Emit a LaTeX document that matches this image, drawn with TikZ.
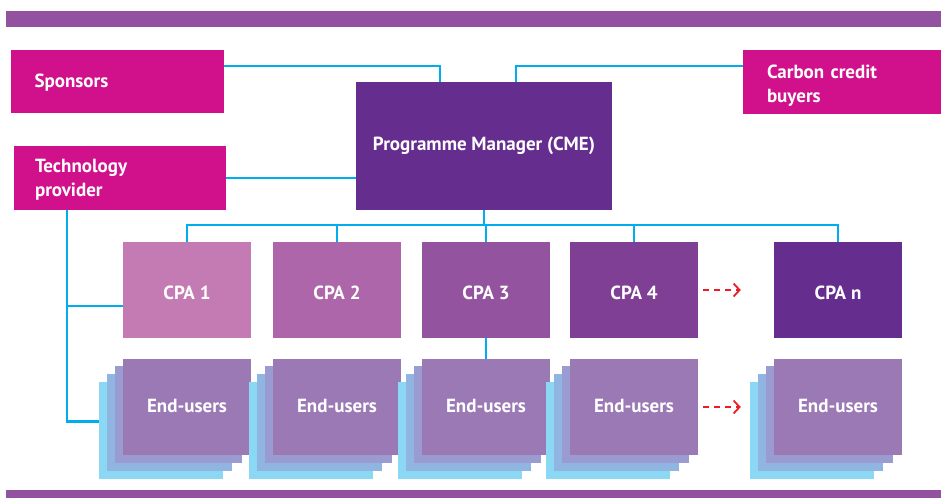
\documentclass[tikz,border=0pt]{standalone}
\usepackage{fontspec}
\setmainfont{PT Sans}
\usetikzlibrary{arrows.meta}
\definecolor{barpurple}{HTML}{93529F}
\definecolor{pinkc}{HTML}{D0118B}
\definecolor{pmc}{HTML}{652D8E}
\definecolor{cpaA}{HTML}{C47BB3}
\definecolor{cpaB}{HTML}{AC66A9}
\definecolor{cpaC}{HTML}{93539F}
\definecolor{cpaD}{HTML}{7E3F95}
\definecolor{cpaN}{HTML}{652D8E}
\definecolor{euF}{HTML}{9A79B5}
\definecolor{euL2}{HTML}{9A9BD0}
\definecolor{euL3}{HTML}{8FB5E0}
\definecolor{euL4}{HTML}{8BD8F5}
\definecolor{connc}{HTML}{00AEEF}
\definecolor{redc}{HTML}{ED1C24}
\tikzset{
  box/.style={rectangle, inner sep=0pt, text=white, font=\bfseries\fontsize{19}{24}\selectfont},
  pinkbox/.style={box, fill=pinkc, align=left},
  cpabox/.style={box, minimum width=128pt, minimum height=96pt, text height=18pt, text depth=0pt},
  eubox/.style={box, fill=euF, minimum width=128pt, minimum height=96pt, text height=13pt, text depth=1.6pt},
  layer/.style={rectangle, inner sep=0pt, minimum height=97pt},
  conn/.style={draw=connc, line width=2.8pt},
  redarr/.style={draw=redc, line width=1.8pt, dash pattern=on 6pt off 5pt, -{Straight Barb[length=6pt,width=13pt,line width=1.8pt]}},
  bar/.style={rectangle, fill=barpurple, inner sep=0pt}
}
\begin{document}
\begin{tikzpicture}[x=1pt,y=-1pt]
\useasboundingbox (0,0) rectangle (941,498);
% bars
\node[bar, minimum width=935pt, minimum height=16pt] (topbar) at (473.5,19) {};
\node[bar, minimum width=935pt, minimum height=8pt] (botbar) at (473.5,494) {};
% top nodes
\node[pinkbox, minimum height=63pt, text width=165pt, inner xsep=24pt, text height=13pt, text depth=2pt] (spons) at (117,81.5) {Sponsors};
\node[pinkbox, minimum height=64pt, text width=150pt, inner xsep=24pt, text height=13pt, text depth=20.4pt] (carbon) at (842,82) {Carbon credit\\buyers};
\node[pinkbox, minimum height=64pt, text width=170pt, inner xsep=21pt, text height=13pt, text depth=23.6pt] (tech) at (120,178) {Technology\\provider};
\node[box, fill=pmc, minimum width=256pt, minimum height=128pt, text height=13pt, text depth=5pt] (pm) at (484,146) {Programme Manager (CME)};
% CPA row
\node[cpabox, fill=cpaA] (cpa1) at (187,290) {CPA 1};
\node[cpabox, fill=cpaB] (cpa2) at (337,290) {CPA 2};
\node[cpabox, fill=cpaC] (cpa3) at (486,290) {CPA 3};
\node[cpabox, fill=cpaD] (cpa4) at (634,290) {CPA 4};
\node[cpabox, fill=cpaN] (cpan) at (838,290) {CPA n};
% End-user stacks
\foreach \n/\cx in {1/187,2/337,3/486,4/634,n/838}{
  \node[layer, fill=euL4, minimum width=123.5pt] (eu\n d) at (\cx-26.25,430.4) {};
  \node[layer, fill=euL3, minimum width=125pt] (eu\n c) at (\cx-17.5,422.6) {};
  \node[layer, fill=euL2, minimum width=126.5pt] (eu\n b) at (\cx-8.75,414.8) {};
  \node[eubox] (eu\n) at (\cx,407) {End-users};
}
% connectors
\draw[conn] ([yshift=15.5pt]spons.east) -| ([xshift=-44pt]pm.north);
\draw[conn] ([yshift=16pt]carbon.west) -| ([xshift=32pt]pm.north);
\draw[conn] (tech.east) -- (tech.east -| pm.west);
\coordinate (bus) at (484,225);
\draw[conn] (pm.south) -- (bus);
\draw[conn] (cpa1.north) |- (bus) -| (cpan.north);
\draw[conn] (cpa2.north) -- (cpa2.north |- bus);
\draw[conn] (cpa3.north) -- (cpa3.north |- bus);
\draw[conn] (cpa4.north) -- (cpa4.north |- bus);
\draw[conn] (cpa3.south) -- (eu3.north);
\coordinate (tv) at ([xshift=-53pt]tech.south);
\draw[conn] (tv) |- ([yshift=9pt]eu1d.west);
\draw[conn] (tv |- cpa1.west) ++(0,16) coordinate (tb) -- (tb -| cpa1.west);
% red dashed arrows
\draw[redarr] ([xshift=5pt]cpa4.east) -- ([xshift=-33pt]cpan.west);
\draw[redarr] ([xshift=5pt]eu4.east) -- ([xshift=-33pt]eun.west);
\end{tikzpicture}
\end{document}
